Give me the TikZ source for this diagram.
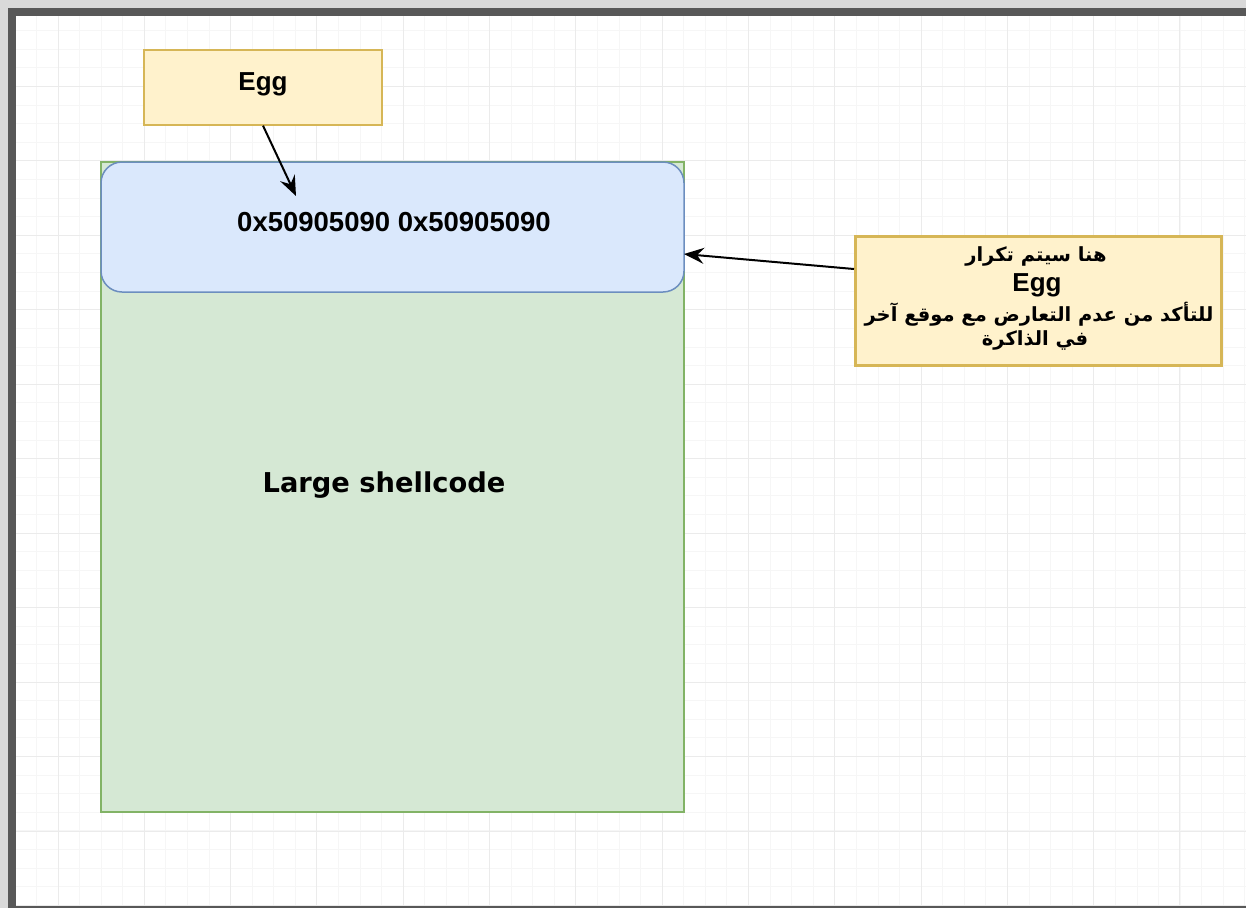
\documentclass[tikz,border=0pt]{standalone}
\usepackage{fontspec}
\usepackage{graphicx}
\setmainfont{Liberation Sans}
\newfontfamily\dejavu{DejaVu Sans}
\newfontfamily\arabicfont[Script=Arabic]{DejaVu Sans}
\TeXXeTstate=1
\usetikzlibrary{arrows.meta}
\definecolor{eggfill}{HTML}{FFF2CC}
\definecolor{eggline}{HTML}{D6B656}
\definecolor{greenfill}{HTML}{D5E8D4}
\definecolor{greenline}{HTML}{82B366}
\definecolor{bluefill}{HTML}{DAE8FC}
\definecolor{blueline}{HTML}{6C8EBF}
\definecolor{gridminor}{HTML}{F6F6F6}
\definecolor{gridmajor}{HTML}{EBEBEB}
\definecolor{frameouter}{HTML}{D9D9D9}
\definecolor{framedark}{HTML}{585858}
\begin{document}
\begin{tikzpicture}[x=1pt,y=-1pt,
  eggbox/.style={draw=eggline,fill=eggfill,line width=1.3pt,minimum width=238pt,minimum height=75pt,inner sep=0pt},
  notebox/.style={draw=eggline,fill=eggfill,line width=3pt,minimum width=366pt,minimum height=129pt,inner sep=0pt},
  shellbox/.style={draw=greenline,fill=greenfill,line width=1.5pt,minimum width=583pt,minimum height=650pt,inner sep=0pt},
  eggrow/.style={draw=blueline,fill=bluefill,line width=1.5pt,rounded corners=21pt,minimum width=583pt,minimum height=130pt,inner sep=0pt},
  conn/.style={line width=2pt,-{Stealth[length=20pt,width=16pt,inset=7pt]}},
  lbl/.style={inner sep=0pt,font=\bfseries},
  arlbl/.style={inner sep=0pt,font=\arabicfont\bfseries\fontsize{19.5}{23}\selectfont}
]
\useasboundingbox (0,0) rectangle (1246,908);
% frame
\fill[frameouter] (0,0) rectangle (1246,908);
\fill[framedark] (8,8) rectangle (1246,908);
\fill[white] (16,16) rectangle (1246,905);
% grid
\begin{scope}
\clip (16,16) rectangle (1246,905);
\foreach \i in {-2,...,55} {
  \draw[gridminor,line width=1pt] ({58+\i*21.58},16) -- ({58+\i*21.58},905);
}
\foreach \i in {-4,...,44} {
  \draw[gridminor,line width=1pt] (16,{86.5+\i*18.61}) -- (1246,{86.5+\i*18.61});
}
\foreach \i in {0,...,13} {
  \draw[gridmajor,line width=1pt] ({58+\i*86.3},16) -- ({58+\i*86.3},905);
}
\foreach \i in {-1,...,11} {
  \draw[gridmajor,line width=1pt] (16,{86.5+\i*74.45}) -- (1246,{86.5+\i*74.45});
}
\end{scope}
% shapes
\node[eggbox] (egg) at (263,87.5) {};
\node[lbl,font=\bfseries\fontsize{26}{30}\selectfont] (eggtxt) at (263,84) {Egg};
\node[shellbox] (shell) at (392.5,487) {};
\node[lbl] (shelltxt) at (384,485) {\fontsize{27.3}{31}\selectfont\dejavu\bfseries Large shellcode};
\node[eggrow] (row) at (392.5,227) {};
\node[lbl,font=\bfseries\fontsize{27.5}{32}\selectfont] (rowtxt) at (394,222) {0x50905090 0x50905090};
\node[notebox] (note) at (1038,300.5) {};
\node[arlbl] (n1) at (1036,256) {\beginR هنا سيتم تكرار\endR};
\node[lbl,font=\bfseries\fontsize{26}{30}\selectfont] (n2) at (1037,285) {Egg};
\node[arlbl] (n3) at (1039,314) {\beginR للتأكد من عدم التعارض مع موقع آخر\endR};
\node[arlbl] (n4) at (1035,340) {\beginR في الذاكرة\endR};
% connectors
\coordinate (rowin) at (296,196);
\coordinate (noteout) at (854,269);
\coordinate (rowright) at (684,254);
\draw[conn] (egg.south) -- (rowin);
\draw[conn] (noteout) -- (rowright);
\end{tikzpicture}
\end{document}
